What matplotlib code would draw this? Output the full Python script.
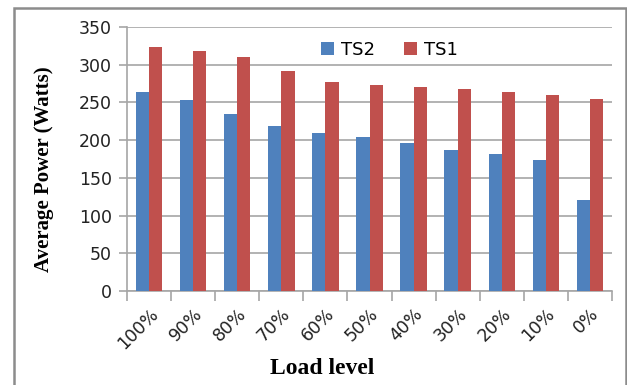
import numpy as np
import matplotlib.pyplot as plt
from matplotlib.patches import Rectangle

# Load levels and average power for the two test systems
load_levels = ["100%", "90%", "80%", "70%", "60%", "50%", "40%", "30%", "20%", "10%", "0%"]
ts2_power = [264, 253, 235, 219, 210, 204, 196, 187, 181, 174, 120]
ts1_power = [323, 318, 310, 291, 277, 273, 270, 268, 264, 260, 255]

blue = "#4f81bd"
red = "#c0504d"
grid_col = "#a6a6a6"
tick_font = "DejaVu Sans"
label_font = "Liberation Serif"

fig = plt.figure(figsize=(6.27, 3.85), dpi=100)
ax = fig.add_axes([0.2026, 0.2442, 0.7735, 0.6857])

x = np.arange(len(load_levels))
w = 0.3
ax.bar(x - w / 2, ts2_power, width=w, color=blue, label="TS2", zorder=3)
ax.bar(x + w / 2, ts1_power, width=w, color=red, label="TS1", zorder=3)

ax.set_xlim(-0.5, len(load_levels) - 0.5)
ax.set_ylim(0, 350)
ax.yaxis.grid(True, color=grid_col, linewidth=1.2, zorder=0)
ax.set_axisbelow(True)

for s in ["top", "right"]:
    ax.spines[s].set_visible(False)
for s in ["left", "bottom"]:
    ax.spines[s].set_color(grid_col)
    ax.spines[s].set_linewidth(1.2)

ax.set_yticks(range(0, 351, 50))
ax.set_yticklabels([str(v) for v in range(0, 351, 50)], fontsize=12.5,
                   family=tick_font, color="#222222")
ax.tick_params(axis="y", length=6, color=grid_col, width=1.2, pad=5)

# category labels centred, ticks placed between categories
ax.set_xticks(x)
ax.set_xticklabels(load_levels, rotation=45, ha="right", rotation_mode="anchor",
                   fontsize=12.5, family=tick_font, color="#222222")
ax.tick_params(axis="x", which="major", length=0, pad=10)
ax.set_xticks(np.arange(-0.5, len(load_levels)), minor=True)
ax.tick_params(axis="x", which="minor", length=7, color=grid_col, width=1.2)

ax.set_xlabel("Load level", fontsize=17, fontweight="bold", family=label_font, va="center")
ax.xaxis.set_label_coords(0.402, -0.292)
ax.set_ylabel("Average Power (Watts)", fontsize=15, fontweight="bold", family=label_font,
              va="center")
ax.yaxis.set_label_coords(-0.171, 0.462)

ax.legend(loc="center left", bbox_to_anchor=(0.399, 0.912), ncol=2, frameon=False,
          prop={"family": tick_font, "size": 13}, handlelength=0.72, handleheight=0.72,
          columnspacing=1.6, handletextpad=0.4, borderaxespad=0, borderpad=0)

# outer chart border
fig.patches.append(Rectangle((14 / 627, -0.05), 612 / 627, 1 - 8 / 385 + 0.05,
                             transform=fig.transFigure, fill=False,
                             edgecolor="#8c8c8c", linewidth=1.8))

fig.savefig("out.png", dpi=100)
